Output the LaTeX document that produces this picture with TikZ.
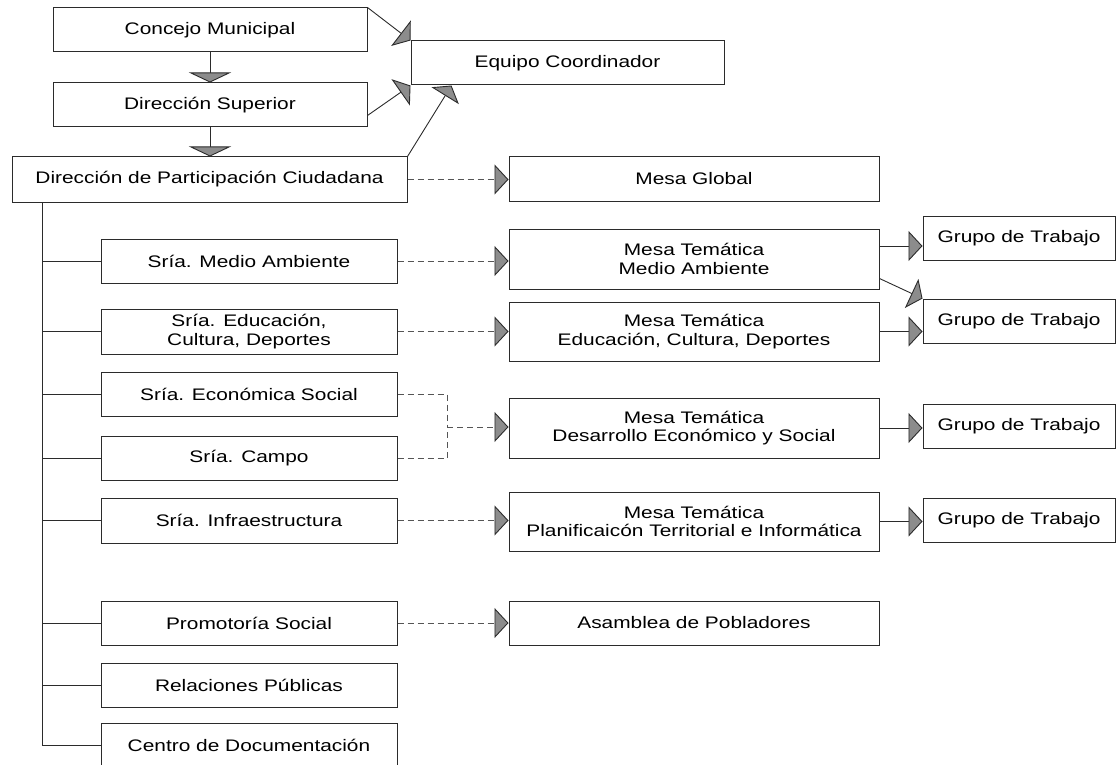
\documentclass[tikz,border=0pt]{standalone}
\usepackage{fontspec}
\setmainfont{Liberation Sans}[FakeStretch=1.25]
\usetikzlibrary{arrows.meta,calc}
\definecolor{bd}{HTML}{2B2B2B}
\definecolor{ag}{HTML}{8C8C8C}
\definecolor{dl}{HTML}{555555}
\tikzset{
 box/.style={draw=bd, line width=1pt, inner sep=0pt, align=center, font=\fontsize{16.7}{18.4}\selectfont},
 rarr/.style={-{Triangle[length=14pt,width=30pt,fill=ag]}},
 darr/.style={-{Triangle[length=10pt,width=42pt,fill=ag]}},
 dgarr/.style={-{Triangle[length=12pt,width=32pt,fill=ag]}},
 conn/.style={draw=bd, line width=0.9pt},
 dsh/.style={draw=dl, line width=0.9pt, dash pattern=on 6pt off 4pt},
 dsharr/.style={dsh, -{Triangle[length=14pt,width=30pt,fill=ag,color=bd]}},
}
\begin{document}
\begin{tikzpicture}[x=1pt,y=-1pt]
\useasboundingbox (0,0) rectangle (1117,765);
% top
\node[box,minimum width=314pt,minimum height=44pt] (cm) at (210,30) {Concejo Municipal};
\node[box,minimum width=314pt,minimum height=44pt] (ds) at (210,105) {Dirección Superior};
\node[box,minimum width=395pt,minimum height=45pt] (dpc) at (209.5,179.5) {Dirección de Participación Ciudadana};
\node[box,minimum width=313pt,minimum height=44pt] (eq) at (567.5,63) {Equipo Coordinador};
\node[box,minimum width=370pt,minimum height=44pt] (mg) at (694,179) {Mesa Global};
% secretarias
\node[box,minimum width=296pt,minimum height=44pt] (sma) at (249,261) {Sría. Medio Ambiente};
\node[box,minimum width=296pt,minimum height=45pt] (sedu) at (249,331.5) {Sría. Educación,\\Cultura, Deportes};
\node[box,minimum width=296pt,minimum height=44pt] (secon) at (249,394) {Sría. Económica Social};
\node[box,minimum width=296pt,minimum height=44pt] (scampo) at (249,458) {Sría. Campo};
\node[box,minimum width=296pt,minimum height=45pt] (sinfra) at (249,520.5) {Sría. Infraestructura};
\node[box,minimum width=296pt,minimum height=44pt] (spromo) at (249,623) {Promotoría Social};
\node[box,minimum width=296pt,minimum height=44pt] (srel) at (249,685) {Relaciones Públicas};
\node[box,minimum width=296pt,minimum height=44pt] (scen) at (249,745) {Centro de Documentación};
% mesas
\node[box,minimum width=370pt,minimum height=60pt] (mma) at (694,259) {Mesa Temática\\Medio Ambiente};
\node[box,minimum width=370pt,minimum height=59pt] (medu) at (694,331.5) {Mesa Temática\\Educación, Cultura, Deportes};
\node[box,minimum width=370pt,minimum height=60pt] (mdes) at (694,428) {Mesa Temática\\Desarrollo Económico y Social};
\node[box,minimum width=370pt,minimum height=59pt] (mplan) at (694,521.5) {Mesa Temática\\Planificaicón Territorial e Informática};
\node[box,minimum width=370pt,minimum height=44pt] (asam) at (694,623) {Asamblea de Pobladores};
% grupos
\node[box,minimum width=192pt,minimum height=44pt] (g1) at (1019,238) {Grupo de Trabajo};
\node[box,minimum width=192pt,minimum height=44pt] (g2) at (1019,321) {Grupo de Trabajo};
\node[box,minimum width=192pt,minimum height=44pt] (g3) at (1019,426) {Grupo de Trabajo};
\node[box,minimum width=192pt,minimum height=44pt] (g4) at (1019,520) {Grupo de Trabajo};
% top connectors
\draw[conn,darr] (cm.south) -- (ds.north);
\draw[conn,darr] (ds.south) -- (ds.south |- dpc.north);
\draw[conn,dgarr] (cm.north east) -- (eq.north west);
\draw[conn,dgarr] ($(ds.south east)+(0,-12)$) -- (eq.south west);
\draw[conn,dgarr] (dpc.north east) -- ($(eq.south west)+(41,0)$);
\draw[dsharr] (dpc.east) -- (dpc.east -| mg.west);
% trunk
\coordinate (tt) at ($(dpc.south west)+(31,0)$);
\draw[conn] (tt) |- (scen.west);
\foreach \n in {sma,sedu,secon,scampo,sinfra,spromo,srel}
  \draw[conn] (tt |- \n.west) -- (\n.west);
% dashed to mesas
\draw[dsharr] (sma.east) -- (sma.east -| mma.west);
\draw[dsharr] (sedu.east) -- (sedu.east -| medu.west);
\coordinate (j) at (447,427);
\draw[dsh] (secon.east) -| (j);
\draw[dsh] (scampo.east) -| (j);
\draw[dsharr] (j) -- (j -| mdes.west);
\draw[dsharr] (sinfra.east) -- (sinfra.east -| mplan.west);
\draw[dsharr] (spromo.east) -- (spromo.east -| asam.west);
% mesas to grupos
\coordinate (m1) at ($(mma.east)+(0,-13)$);
\draw[conn,rarr] (m1) -- (m1 -| g1.west);
\draw[conn,dgarr] ($(mma.south east)+(0,-11)$) -- (g2.north west);
\draw[conn,rarr] (medu.east) -- (medu.east -| g2.west);
\draw[conn,rarr] (mdes.east) -- (mdes.east -| g3.west);
\draw[conn,rarr] (mplan.east) -- (mplan.east -| g4.west);
\end{tikzpicture}
\end{document}
